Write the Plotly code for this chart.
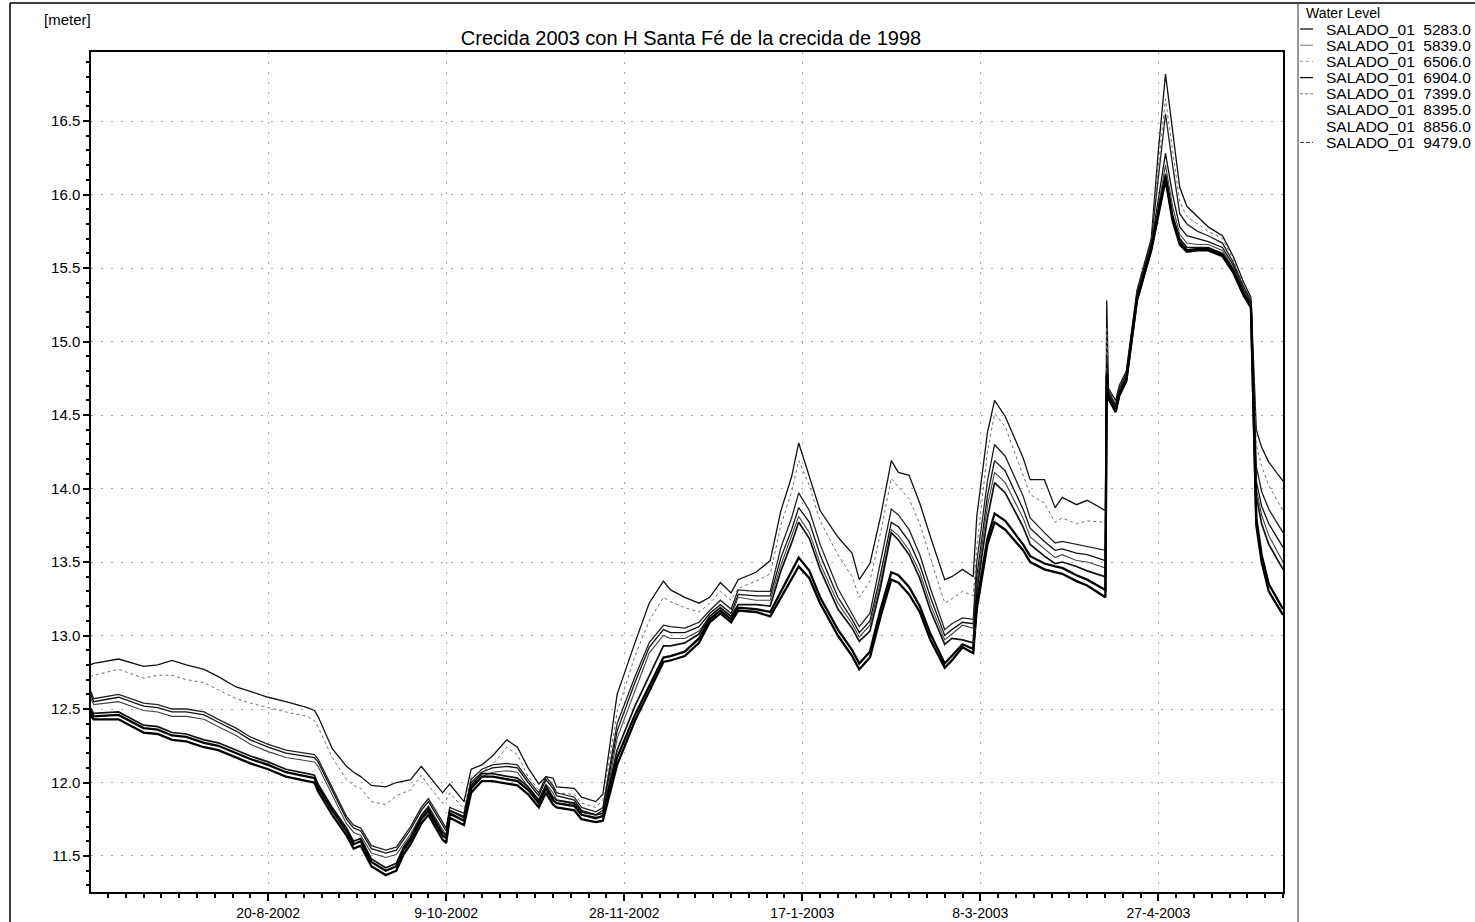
import plotly.graph_objects as go

# ---------------- data ----------------
dates = [
    "2002-07-01", "2002-07-02", "2002-07-09", "2002-07-16", "2002-07-20", "2002-07-24", "2002-07-28",
    "2002-08-02", "2002-08-06", "2002-08-11", "2002-08-15", "2002-08-20", "2002-08-25", "2002-08-31",
    "2002-09-02", "2002-09-03", "2002-09-07", "2002-09-11", "2002-09-13", "2002-09-15", "2002-09-18",
    "2002-09-22", "2002-09-25", "2002-09-27", "2002-09-29", "2002-10-02", "2002-10-04", "2002-10-08",
    "2002-10-09", "2002-10-10", "2002-10-14", "2002-10-16", "2002-10-19", "2002-10-22", "2002-10-26",
    "2002-10-29", "2002-11-01", "2002-11-04", "2002-11-06", "2002-11-08", "2002-11-09", "2002-11-14",
    "2002-11-16", "2002-11-20", "2002-11-22", "2002-11-26", "2002-12-01", "2002-12-05", "2002-12-09",
    "2002-12-11", "2002-12-15", "2002-12-19", "2002-12-22", "2002-12-25", "2002-12-28", "2002-12-30",
    "2003-01-04", "2003-01-08", "2003-01-11", "2003-01-14", "2003-01-16", "2003-01-19", "2003-01-22",
    "2003-01-27", "2003-01-31", "2003-02-02", "2003-02-05", "2003-02-08", "2003-02-11", "2003-02-13",
    "2003-02-16", "2003-02-19", "2003-02-22", "2003-02-26", "2003-02-28", "2003-03-03", "2003-03-06",
    "2003-03-07", "2003-03-10", "2003-03-12", "2003-03-15", "2003-03-20", "2003-03-22", "2003-03-26",
    "2003-03-29", "2003-03-31", "2003-04-04", "2003-04-07", "2003-04-12 03:00", "2003-04-12 12:00",
    "2003-04-13", "2003-04-15", "2003-04-16", "2003-04-18", "2003-04-21", "2003-04-25", "2003-04-27",
    "2003-04-29", "2003-05-01", "2003-05-03", "2003-05-05", "2003-05-08", "2003-05-11", "2003-05-15",
    "2003-05-18", "2003-05-21", "2003-05-23", "2003-05-24 12:00", "2003-05-26", "2003-05-28", "2003-06-01",
]

series_names = [
    "SALADO_01  5283.0", "SALADO_01  5839.0", "SALADO_01  6506.0", "SALADO_01  6904.0",
    "SALADO_01  7399.0", "SALADO_01  8395.0", "SALADO_01  8856.0", "SALADO_01  9479.0",
]

wl_5283 = [12.80, 12.81, 12.84, 12.79, 12.80, 12.83, 12.80, 12.77, 12.72, 12.65, 12.62, 12.58, 12.55, 12.51,
           12.49, 12.45, 12.23, 12.11, 12.07, 12.04, 11.98, 11.97, 12.00, 12.01, 12.02, 12.11, 12.05, 11.93,
           11.96, 11.99, 11.87, 12.09, 12.12, 12.18, 12.29, 12.24, 12.10, 11.99, 12.04, 12.03, 11.97, 11.96,
           11.90, 11.87, 11.92, 12.60, 12.95, 13.22, 13.37, 13.31, 13.26, 13.22, 13.26, 13.36, 13.29, 13.38,
           13.43, 13.51, 13.85, 14.08, 14.31, 14.08, 13.85, 13.67, 13.56, 13.38, 13.49, 13.81, 14.19, 14.11,
           14.09, 13.90, 13.67, 13.38, 13.40, 13.45, 13.40, 13.81, 14.38, 14.60, 14.49, 14.21, 14.06, 14.06,
           13.87, 13.94, 13.89, 13.92, 13.85, 15.28, 14.68, 14.60, 14.70, 14.80, 15.35, 15.70, 16.30,
           16.82, 16.45, 16.05, 15.92, 15.85, 15.78, 15.72, 15.58, 15.40, 15.30, 14.40, 14.28, 14.18, 14.05]
wl_5839 = [12.72, 12.73, 12.77, 12.71, 12.73, 12.73, 12.70, 12.68, 12.63, 12.57, 12.54, 12.51, 12.48, 12.45,
           12.42, 12.38, 12.17, 12.02, 11.98, 11.96, 11.87, 11.85, 11.91, 11.93, 11.95, 12.05, 11.98, 11.86,
           11.88, 11.93, 11.82, 12.04, 12.07, 12.12, 12.24, 12.19, 12.04, 11.95, 12.01, 11.98, 11.93, 11.92,
           11.86, 11.83, 11.88, 12.48, 12.86, 13.10, 13.26, 13.23, 13.19, 13.16, 13.22, 13.30, 13.24, 13.32,
           13.37, 13.42, 13.75, 13.98, 14.19, 14.02, 13.78, 13.55, 13.40, 13.26, 13.37, 13.70, 14.07, 14.01,
           13.93, 13.76, 13.53, 13.22, 13.25, 13.30, 13.27, 13.60, 14.25, 14.51, 14.42, 14.10, 13.96, 13.90,
           13.77, 13.80, 13.76, 13.78, 13.77, 15.10, 14.67, 14.58, 14.69, 14.79, 15.34, 15.69, 16.20,
           16.65, 16.30, 15.95, 15.85, 15.80, 15.75, 15.70, 15.56, 15.38, 15.29, 14.30, 14.15, 14.02, 13.85]
wl_6506 = [12.63, 12.57, 12.60, 12.54, 12.53, 12.50, 12.50, 12.48, 12.43, 12.37, 12.31, 12.26, 12.22, 12.20,
           12.19, 12.16, 11.96, 11.77, 11.71, 11.69, 11.57, 11.54, 11.56, 11.63, 11.70, 11.83, 11.89, 11.73,
           11.69, 11.83, 11.79, 12.02, 12.09, 12.12, 12.13, 12.12, 12.02, 11.93, 12.04, 11.98, 11.93, 11.90,
           11.83, 11.80, 11.83, 12.40, 12.72, 12.95, 13.07, 13.06, 13.05, 13.09, 13.17, 13.24, 13.18, 13.31,
           13.30, 13.30, 13.60, 13.80, 13.97, 13.85, 13.62, 13.32, 13.15, 13.06, 13.15, 13.50, 13.86, 13.82,
           13.72, 13.55, 13.32, 13.04, 13.08, 13.12, 13.11, 13.50, 14.05, 14.30, 14.22, 13.95, 13.80, 13.70,
           13.63, 13.64, 13.62, 13.61, 13.58, 14.90, 14.66, 14.57, 14.68, 14.78, 15.33, 15.68, 16.10,
           16.55, 16.20, 15.87, 15.80, 15.75, 15.72, 15.67, 15.54, 15.37, 15.28, 14.15, 13.98, 13.86, 13.70]
wl_6904 = [12.61, 12.55, 12.58, 12.52, 12.51, 12.48, 12.48, 12.46, 12.41, 12.35, 12.29, 12.24, 12.20, 12.18,
           12.17, 12.14, 11.94, 11.75, 11.69, 11.67, 11.55, 11.52, 11.54, 11.61, 11.68, 11.81, 11.87, 11.71,
           11.67, 11.81, 11.77, 12.00, 12.07, 12.10, 12.11, 12.10, 12.00, 11.91, 12.02, 11.96, 11.91, 11.88,
           11.81, 11.78, 11.81, 12.35, 12.68, 12.92, 13.04, 13.02, 13.02, 13.06, 13.15, 13.21, 13.15, 13.28,
           13.27, 13.27, 13.53, 13.72, 13.87, 13.77, 13.55, 13.26, 13.11, 13.02, 13.10, 13.42, 13.77, 13.74,
           13.64, 13.48, 13.26, 13.00, 13.04, 13.09, 13.08, 13.40, 13.95, 14.19, 14.12, 13.86, 13.73, 13.64,
           13.58, 13.59, 13.56, 13.55, 13.51, 14.85, 14.65, 14.56, 14.67, 14.77, 15.32, 15.66, 15.98,
           16.28, 16.00, 15.78, 15.72, 15.70, 15.68, 15.64, 15.52, 15.35, 15.27, 14.05, 13.88, 13.76, 13.60]
wl_7399 = [12.58, 12.53, 12.55, 12.49, 12.48, 12.45, 12.45, 12.43, 12.38, 12.32, 12.26, 12.21, 12.17, 12.15,
           12.14, 12.11, 11.91, 11.72, 11.66, 11.64, 11.52, 11.49, 11.51, 11.58, 11.65, 11.78, 11.84, 11.68,
           11.64, 11.78, 11.74, 11.97, 12.04, 12.07, 12.08, 12.07, 11.97, 11.88, 11.99, 11.93, 11.88, 11.85,
           11.78, 11.75, 11.78, 12.30, 12.63, 12.88, 13.00, 12.98, 12.98, 13.03, 13.13, 13.19, 13.13, 13.26,
           13.24, 13.24, 13.48, 13.67, 13.81, 13.70, 13.49, 13.22, 13.08, 12.99, 13.07, 13.37, 13.72, 13.68,
           13.58, 13.43, 13.21, 12.97, 13.01, 13.07, 13.05, 13.35, 13.88, 14.11, 14.04, 13.80, 13.67, 13.59,
           13.53, 13.55, 13.51, 13.50, 13.46, 14.82, 14.64, 14.55, 14.66, 14.76, 15.31, 15.65, 15.93,
           16.20, 15.92, 15.73, 15.67, 15.66, 15.66, 15.62, 15.50, 15.34, 15.26, 14.00, 13.82, 13.68, 13.50]
wl_8395 = [12.51, 12.47, 12.48, 12.39, 12.38, 12.34, 12.33, 12.29, 12.27, 12.22, 12.18, 12.14, 12.09, 12.06,
           12.05, 11.99, 11.83, 11.69, 11.60, 11.62, 11.48, 11.42, 11.45, 11.56, 11.63, 11.77, 11.83, 11.66,
           11.64, 11.81, 11.76, 11.98, 12.06, 12.06, 12.04, 12.03, 11.97, 11.88, 11.98, 11.90, 11.88, 11.86,
           11.80, 11.78, 11.79, 12.22, 12.52, 12.72, 12.93, 12.93, 12.95, 13.01, 13.13, 13.19, 13.13, 13.21,
           13.21, 13.20, 13.44, 13.63, 13.77, 13.66, 13.45, 13.18, 13.05, 12.96, 13.03, 13.33, 13.70, 13.65,
           13.55, 13.39, 13.17, 12.94, 12.98, 12.97, 12.95, 13.30, 13.80, 14.04, 13.97, 13.74, 13.62, 13.54,
           13.49, 13.50, 13.47, 13.44, 13.40, 14.80, 14.63, 14.54, 14.65, 14.75, 15.30, 15.64, 15.90,
           16.14, 15.86, 15.70, 15.64, 15.64, 15.64, 15.60, 15.49, 15.33, 15.25, 13.95, 13.76, 13.62, 13.45]
wl_8856 = [12.49, 12.45, 12.46, 12.37, 12.36, 12.32, 12.31, 12.27, 12.25, 12.20, 12.16, 12.12, 12.07, 12.04,
           12.03, 11.97, 11.81, 11.67, 11.58, 11.60, 11.46, 11.40, 11.43, 11.54, 11.61, 11.75, 11.81, 11.64,
           11.62, 11.79, 11.74, 11.96, 12.04, 12.04, 12.02, 12.01, 11.95, 11.86, 11.96, 11.88, 11.86, 11.84,
           11.78, 11.76, 11.77, 12.17, 12.46, 12.66, 12.85, 12.86, 12.89, 12.98, 13.11, 13.17, 13.11, 13.19,
           13.18, 13.16, 13.30, 13.43, 13.53, 13.44, 13.26, 13.04, 12.90, 12.81, 12.89, 13.18, 13.43, 13.41,
           13.33, 13.20, 13.01, 12.81, 12.86, 12.94, 12.91, 13.22, 13.66, 13.83, 13.78, 13.62, 13.54, 13.49,
           13.47, 13.46, 13.41, 13.38, 13.31, 14.78, 14.62, 14.53, 14.64, 14.74, 15.29, 15.63, 15.88,
           16.12, 15.84, 15.68, 15.62, 15.63, 15.63, 15.59, 15.48, 15.32, 15.24, 13.80, 13.55, 13.35, 13.18]
wl_9479 = [12.46, 12.43, 12.43, 12.34, 12.33, 12.29, 12.28, 12.24, 12.22, 12.17, 12.13, 12.09, 12.04, 12.01,
           12.00, 11.94, 11.78, 11.64, 11.55, 11.57, 11.43, 11.37, 11.40, 11.51, 11.58, 11.72, 11.78, 11.61,
           11.59, 11.76, 11.71, 11.93, 12.01, 12.01, 11.99, 11.98, 11.92, 11.83, 11.93, 11.85, 11.83, 11.81,
           11.75, 11.73, 11.74, 12.12, 12.42, 12.62, 12.82, 12.83, 12.86, 12.95, 13.09, 13.15, 13.09, 13.17,
           13.16, 13.13, 13.26, 13.38, 13.47, 13.39, 13.22, 13.00, 12.86, 12.77, 12.85, 13.13, 13.38, 13.36,
           13.28, 13.16, 12.97, 12.78, 12.83, 12.92, 12.88, 13.18, 13.62, 13.77, 13.72, 13.58, 13.50, 13.45,
           13.43, 13.42, 13.37, 13.34, 13.26, 14.76, 14.61, 14.52, 14.63, 14.73, 15.28, 15.62, 15.86,
           16.10, 15.82, 15.66, 15.61, 15.62, 15.62, 15.58, 15.47, 15.31, 15.23, 13.75, 13.50, 13.30, 13.14]

series_values = [wl_5283, wl_5839, wl_6506, wl_6904, wl_7399, wl_8395, wl_8856, wl_9479]

x_tick_dates = ["2002-08-20", "2002-10-09", "2002-11-28", "2003-01-17", "2003-03-08", "2003-04-27"]
x_tick_text = ["20-8-2002", "9-10-2002", "28-11-2002", "17-1-2003", "8-3-2003", "27-4-2003"]

# ---------------- styles ----------------
line_styles = [
    dict(color="#111111", width=1.3, dash="solid"),
    dict(color="#6e6e6e", width=1.0, dash="dot"),
    dict(color="#222222", width=1.3, dash="solid"),
    dict(color="#111111", width=1.3, dash="solid"),
    dict(color="#444444", width=1.1, dash="solid"),
    dict(color="#111111", width=1.7, dash="solid"),
    dict(color="#000000", width=2.3, dash="solid"),
    dict(color="#000000", width=2.3, dash="solid"),
]
# appearance of the little samples in the legend box (None = no visible sample)
legend_samples = [
    dict(color="#111111", width=1.3, dash="solid"),
    dict(color="#777777", width=1.0, dash="solid"),
    dict(color="#999999", width=1.0, dash="dot"),
    dict(color="#111111", width=1.3, dash="solid"),
    dict(color="#777777", width=1.0, dash="3px,2px"),
    None,
    None,
    dict(color="#333333", width=1.0, dash="4px,2px"),
]

FONT = "Liberation Sans, Arial, sans-serif"
W, H = 1475, 922
L, R, T, B = 91, 1283, 52, 892

fig = go.Figure()
for name, vals, st in zip(series_names, series_values, line_styles):
    fig.add_trace(go.Scatter(x=dates, y=vals, mode="lines", name=name, line=st, showlegend=False))


def px_x(px):
    return (px - L) / (R - L)


def px_y(py):
    return (B - py) / (B - T)


fig.update_layout(
    width=W, height=H,
    margin=dict(l=L, r=W - R, t=T, b=H - B, pad=0, autoexpand=False),
    paper_bgcolor="white", plot_bgcolor="white",
    font=dict(family=FONT, size=14, color="black"),
    title=dict(text="Crecida 2003 con H Santa Fé de la crecida de 1998",
               x=(0.5 * (L + R) + 4) / W, xanchor="center", xref="container",
               y=1 - 38 / H, yanchor="middle", yref="container",
               font=dict(family=FONT, size=20, color="black")),
    showlegend=False,
)

grid = dict(showgrid=True, gridcolor="#a8a8a8", griddash="2px,8px", gridwidth=1)
fig.update_xaxes(
    type="date",
    range=["2002-07-01 06:00", "2003-06-01"],
    tickmode="array", tickvals=x_tick_dates, ticktext=x_tick_text,
    ticks="outside", ticklen=7, tickcolor="black", tickwidth=1.5,
    showline=True, linecolor="black", linewidth=1.5, mirror=True,
    minor=dict(dtick=5 * 86400000, tick0="2002-08-20", ticks="outside", ticklen=4,
               tickcolor="black", showgrid=False),
    tickfont=dict(family=FONT, size=14),
    zeroline=False, **grid,
)
fig.update_yaxes(
    range=[11.255, 16.97],
    tick0=11.5, dtick=0.5, tickformat=".1f",
    ticks="outside", ticklen=6, tickcolor="black", tickwidth=1.5,
    showline=True, linecolor="black", linewidth=1.5, mirror=True,
    minor=dict(dtick=0.1, tick0=11.5, ticks="outside", ticklen=3, tickcolor="black", showgrid=False),
    tickfont=dict(family=FONT, size=15),
    zeroline=False, **grid,
)

# unit label
fig.add_annotation(text="[meter]", xref="paper", yref="paper", x=px_x(42), y=px_y(20),
                   xanchor="left", yanchor="middle", showarrow=False,
                   font=dict(family=FONT, size=15, color="black"))

# legend box (drawn by hand so the row spacing matches)
fig.add_annotation(text="Water Level", xref="paper", yref="paper", x=px_x(1304), y=px_y(13),
                   xanchor="left", yanchor="middle", showarrow=False,
                   font=dict(family=FONT, size=14, color="black"))
for i, (name, samp) in enumerate(zip(series_names, legend_samples)):
    yy = 29 + 16.2 * i
    fig.add_annotation(text=name.replace("  ", "&nbsp;&nbsp;"), xref="paper", yref="paper",
                       x=px_x(1324), y=px_y(yy), xanchor="left", yanchor="middle", showarrow=False,
                       font=dict(family=FONT, size=15.5, color="black"))
    if samp is not None:
        fig.add_shape(type="line", xref="paper", yref="paper", x0=px_x(1300), x1=px_x(1313),
                      y0=px_y(yy), y1=px_y(yy), line=samp)

# outer frame and legend divider
frame = dict(color="black", width=1.5)
fig.add_shape(type="line", xref="paper", yref="paper", x0=px_x(10), x1=px_x(W), y0=px_y(3), y1=px_y(3), line=frame)
fig.add_shape(type="line", xref="paper", yref="paper", x0=px_x(10), x1=px_x(10), y0=px_y(3), y1=px_y(H), line=frame)
fig.add_shape(type="line", xref="paper", yref="paper", x0=px_x(1298), x1=px_x(1298), y0=px_y(3), y1=px_y(H),
              line=dict(color="#333333", width=1))

fig.write_html("out.html", config={"displayModeBar": False},
               post_script="document.body.style.margin='0';document.body.style.overflow='hidden';")
